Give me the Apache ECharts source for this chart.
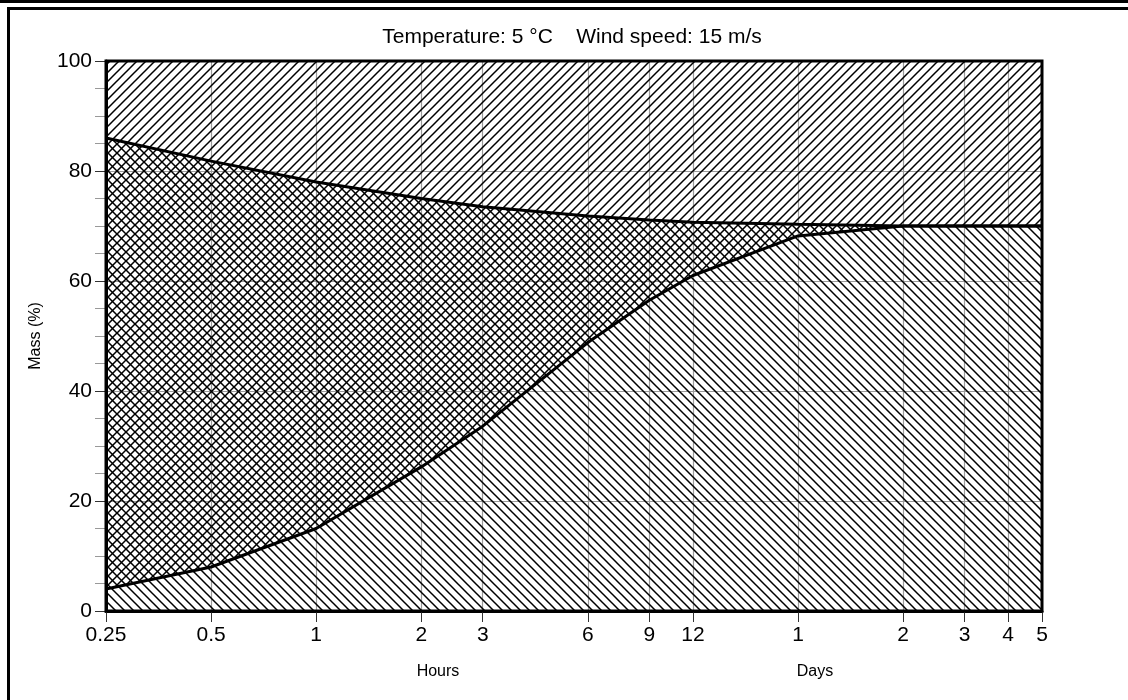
<!DOCTYPE html>
<html>
<head>
<meta charset="utf-8">
<script src="https://cdn.jsdelivr.net/npm/echarts@6/dist/echarts.min.js"></script>
<style>
html,body{margin:0;padding:0;background:#fff;}
#chart{width:1128px;height:700px;}
</style>
</head>
<body>
<div id="chart"></div>
<script>
// ---- data (x in hours) ----
const hours = [0.25, 0.5, 1, 2, 3, 6, 9, 12, 24, 48, 72, 96, 120];
const upperCurve = [86, 81.8, 78, 75, 73.5, 71.8, 71.1, 70.7, 70.3, 70, 70, 70, 70];
const lowerCurve = [4, 8, 15, 26.2, 33.6, 48.8, 56.5, 61, 68.2, 70, 70, 70, 70];
const xTickHours = [0.25, 0.5, 1, 2, 3, 6, 9, 12, 24, 48, 72, 96, 120];
const titleText = 'Temperature: 5 °C    Wind speed: 15 m/s';
const yName = 'Mass (%)';
const xNameHours = 'Hours';
const xNameDays = 'Days';

function hatch(kind) {
  const s = 9;
  const c = document.createElement('canvas');
  c.width = s; c.height = s;
  const g = c.getContext('2d');
  g.strokeStyle = '#000';
  g.lineWidth = 1.5;
  g.beginPath();
  if (kind === 'fwd') {
    for (const o of [-s, 0, s]) { g.moveTo(o - 1, s + 1); g.lineTo(o + s + 1, -1); }
  } else {
    for (const o of [-s, 0, s]) { g.moveTo(o - 1, -1); g.lineTo(o + s + 1, s + 1); }
  }
  g.stroke();
  return { image: c, repeat: 'repeat' };
}

const font = 'Liberation Sans, Arial, sans-serif';
const chart = echarts.init(document.getElementById('chart'), null, { renderer: 'canvas' });

chart.setOption({
  animation: false,
  backgroundColor: '#fff',
  title: {
    text: titleText,
    left: 567, top: 22, textAlign: 'center',
    textStyle: { fontFamily: font, fontSize: 21, fontWeight: 'normal', color: '#000' }
  },
  grid: {
    left: 106, right: 86, top: 61, bottom: 89,
    show: true, z: 3, borderColor: '#000', borderWidth: 3, backgroundColor: 'transparent'
  },
  xAxis: {
    type: 'log', logBase: 2, min: 0.25, max: 120,
    axisLine: { show: true, lineStyle: { color: '#000', width: 3 } },
    axisTick: { show: true, length: 11, customValues: xTickHours, lineStyle: { color: '#333', width: 1 } },
    axisLabel: {
      customValues: xTickHours, margin: 14,
      fontFamily: font, fontSize: 21, color: '#000',
      formatter: v => (v >= 24 ? String(Math.round(v / 24)) : String(v))
    },
    splitLine: { show: true, showMinLine: false, showMaxLine: false, lineStyle: { color: '#999', width: 1.2 } }
  },
  yAxis: {
    type: 'value', min: 0, max: 100, interval: 20,
    axisLine: { show: true, lineStyle: { color: '#000', width: 3 } },
    axisTick: { show: true, length: 11, lineStyle: { color: '#333', width: 1 } },
    minorTick: { show: true, splitNumber: 4, length: 11, lineStyle: { color: '#999', width: 1 } },
    axisLabel: { margin: 14, fontFamily: font, fontSize: 21, color: '#000' },
    splitLine: { show: true, showMinLine: false, showMaxLine: false, lineStyle: { color: '#999', width: 1.2 } }
  },
  graphic: [
    { type: 'rect', shape: { x: 0, y: 0, width: 1128, height: 3 }, style: { fill: '#000' }, silent: true },
    { type: 'rect', shape: { x: 7, y: 7, width: 1121, height: 3 }, style: { fill: '#000' }, silent: true },
    { type: 'rect', shape: { x: 7, y: 7, width: 3, height: 693 }, style: { fill: '#000' }, silent: true },
    { type: 'text', x: 36, y: 336, rotation: Math.PI / 2,
      style: { text: yName, font: '16px ' + font, fill: '#000', textAlign: 'center', textVerticalAlign: 'middle' } },
    { type: 'text', x: 438, y: 672,
      style: { text: xNameHours, font: '16px ' + font, fill: '#000', textAlign: 'center', textVerticalAlign: 'middle' } },
    { type: 'text', x: 815, y: 672,
      style: { text: xNameDays, font: '16px ' + font, fill: '#000', textAlign: 'center', textVerticalAlign: 'middle' } }
  ],
  series: [
    {
      type: 'line', symbol: 'none', z: 2,
      data: hours.map((h, i) => [h, lowerCurve[i]]),
      lineStyle: { color: '#000', width: 3 },
      areaStyle: { origin: 'end', color: hatch('fwd'), opacity: 1 }
    },
    {
      type: 'line', symbol: 'none', z: 2,
      data: hours.map((h, i) => [h, upperCurve[i]]),
      lineStyle: { color: '#000', width: 3 },
      areaStyle: { origin: 'start', color: hatch('back'), opacity: 1 }
    }
  ]
});
</script>
</body>
</html>
